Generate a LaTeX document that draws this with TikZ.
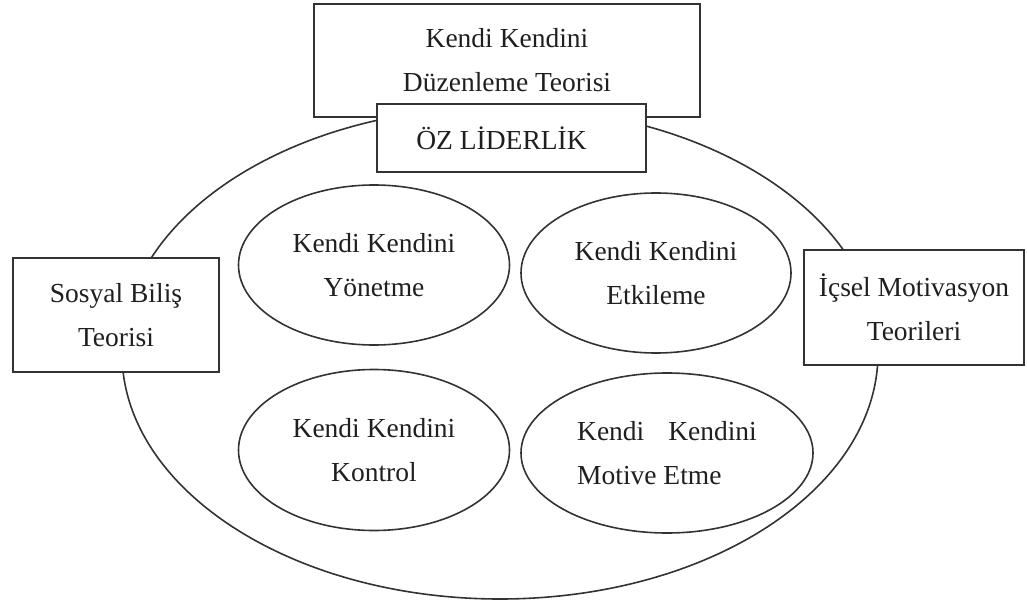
\documentclass[tikz,border=0pt]{standalone}
\usepackage{fontspec}
\setmainfont{Liberation Serif}
\usetikzlibrary{shapes.geometric}
\tikzset{
  txt/.style={font=\fontsize{27.5}{44}\selectfont, text=black!88, align=center},
  box/.style={txt, draw=black!80, fill=white, line width=1.8pt, inner sep=0pt},
  bubble/.style={txt, ellipse, draw=black!80, line width=1.6pt, inner sep=0pt},
}
\begin{document}
\begin{tikzpicture}[x=1pt,y=-1pt]
\useasboundingbox (0,0) rectangle (1027,604);
% outer ellipse
\node[ellipse, draw=black!80, line width=1.6pt, minimum width=756pt, minimum height=492pt] (outer) at (500,353) {};
% boxes
\node[box, minimum width=386pt, minimum height=113pt] (top) at (507,60.5) {Kendi Kendini\\Düzenleme Teorisi};
\node[box, minimum width=269pt, minimum height=68pt] (oz) at (511.5,138) {ÖZ LİDERLİK\hspace*{20pt}};
\node[box, minimum width=206pt, minimum height=114pt] (sosyal) at (116,315) {Sosyal Biliş\\Teorisi};
\node[box, minimum width=220pt, minimum height=115pt] (icsel) at (914,307.5) {İçsel Motivasyon\\Teorileri};
% inner ellipses
\node[bubble, minimum width=271pt, minimum height=160pt] (yonetme) at (374,265) {Kendi Kendini\\Yönetme};
\node[bubble, minimum width=270pt, minimum height=160pt] (etkileme) at (656,273) {Kendi Kendini\\Etkileme};
\node[bubble, minimum width=271pt, minimum height=161pt] (kontrol) at (374,450) {Kendi Kendini\\Kontrol};
\node[bubble, minimum width=292pt, minimum height=160pt, align=left] (motive) at (667,453) {Kendi\hspace{17pt} Kendini\\Motive Etme};
\end{tikzpicture}
\end{document}
